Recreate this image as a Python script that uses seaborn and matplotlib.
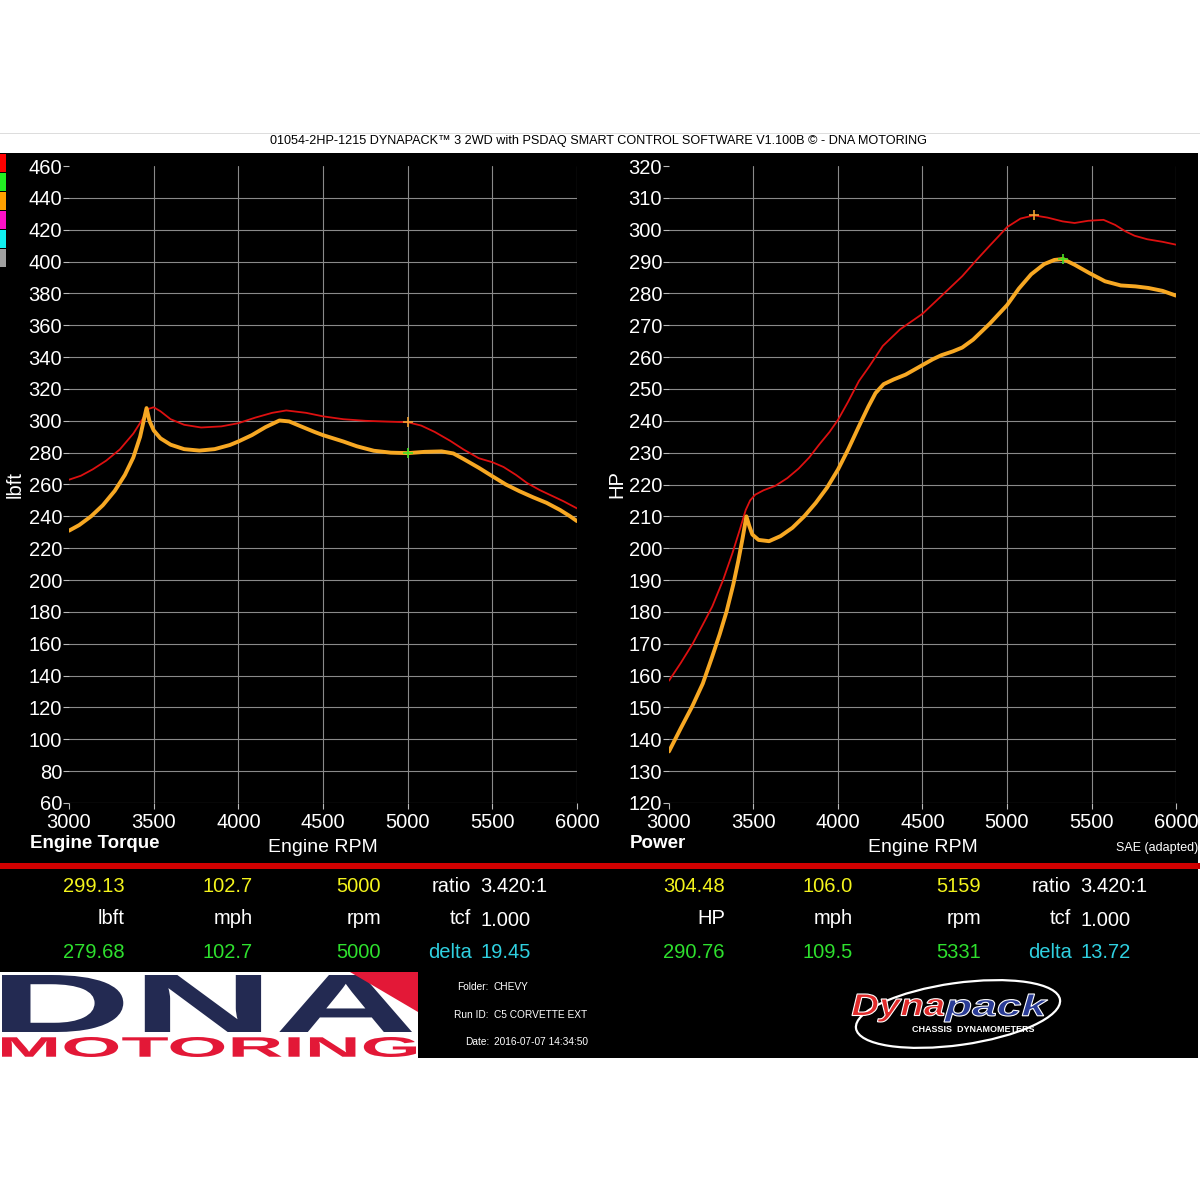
import matplotlib
matplotlib.use("Agg")
import matplotlib.pyplot as plt
import seaborn as sns
from matplotlib.patches import Rectangle, Polygon, PathPatch, Ellipse
from matplotlib.textpath import TextPath
from matplotlib.font_manager import FontProperties
from matplotlib.transforms import Affine2D

# ---- curves ----
torque_red_rpm = [3000, 3070, 3140, 3220, 3300, 3380, 3440, 3470, 3500, 3540, 3600, 3680,
                  3780, 3900, 4000, 4100, 4200, 4283, 4400, 4500, 4620, 4750, 4880, 5000,
                  5080, 5160, 5250, 5330, 5420, 5500, 5566, 5640, 5704, 5780, 5850, 5920, 6000]
torque_red = [263, 265.5, 269.5, 275, 282, 292, 302, 307.5, 308.5, 306, 301, 297.5,
              295.8, 296.5, 298.5, 302, 305, 306.5, 305, 302.8, 301, 300, 299.5, 299.1,
              297, 293, 287.5, 282, 276.5, 274, 271, 266, 261, 256.5, 253, 249.5, 245]

torque_orange_rpm = [3000, 3060, 3130, 3200, 3270, 3330, 3380, 3420, 3445, 3458, 3475, 3500,
                     3540, 3600, 3680, 3770, 3860, 3950, 4000, 4080, 4160, 4243, 4300, 4370,
                     4450, 4500, 4560, 4620, 4700, 4800, 4900, 5000, 5100, 5200, 5270, 5330,
                     5420, 5500, 5580, 5660, 5740, 5820, 5900, 5960, 6000]
torque_orange = [231, 234.5, 240, 247, 256, 266, 277, 290, 302, 308, 300, 294,
                 289, 285, 282.2, 281.3, 282.2, 284.8, 287, 291, 296, 300.2, 299.6, 296.5,
                 293, 291, 289, 287, 284, 281.2, 280, 279.7, 280.5, 280.8, 279.5, 276,
                 270.5, 265.2, 260, 255.8, 252, 248.5, 244, 240, 237]

power_red_rpm = [3000, 3070, 3140, 3200, 3256, 3320, 3375, 3420, 3454, 3480, 3510, 3560,
                 3630, 3700, 3767, 3830, 3888, 3950, 4000, 4060, 4124, 4184, 4265, 4367,
                 4500, 4612, 4735, 4820, 4898, 4960, 5000, 5080, 5159, 5240, 5330, 5400,
                 5480, 5571, 5640, 5700, 5755, 5830, 5920, 6000]
power_red = [158.4, 164, 170, 176, 181.7, 190, 198.4, 206, 212, 215, 216.8, 218.2,
             219.6, 222, 225, 228.5, 232.5, 236.5, 240.3, 246, 252.5, 257, 263.5, 268.7,
             273.6, 279.2, 285.4, 290.5, 295, 298.5, 300.8, 303.5, 304.5, 303.8, 302.6, 302.1,
             302.8, 303.1, 301.5, 299.5, 298.1, 297, 296.2, 295.3]

power_orange_rpm = [3000, 3070, 3138, 3200, 3256, 3300, 3340, 3380, 3410, 3435, 3458, 3475,
                    3493, 3530, 3592, 3660, 3730, 3800, 3868, 3935, 4000, 4060, 4124, 4180,
                    4222, 4270, 4330, 4400, 4500, 4560, 4612, 4680, 4735, 4800, 4898, 5000,
                    5070, 5143, 5220, 5280, 5331, 5400, 5490, 5580, 5673, 5760, 5837, 5920, 6000]
power_orange = [136.2, 143.5, 150.4, 157.5, 166, 173, 180, 188.5, 196, 203, 210, 207,
                204.3, 202.6, 202.2, 203.8, 206.4, 210, 214.2, 219, 224.7, 231, 238.3, 244.5,
                248.7, 251.5, 253, 254.5, 257.5, 259.3, 260.6, 261.8, 263, 265.5, 270.5, 276.3,
                281.5, 286, 289.2, 290.5, 290.8, 289, 286.3, 283.8, 282.5, 282.2, 281.7, 280.8, 279.3]

# cursor points shown on the curves
torque_marks = [(5000, 299.13), (5000, 279.68)]
power_marks = [(5159, 304.48), (5331, 290.76)]

# readout panel
torque_top = ["299.13", "102.7", "5000"]
torque_units = ["lbft", "mph", "rpm"]
torque_bottom = ["279.68", "102.7", "5000"]
power_top = ["304.48", "106.0", "5159"]
power_units = ["HP", "mph", "rpm"]
power_bottom = ["290.76", "109.5", "5331"]
ratio = "3.420:1"
tcf = "1.000"
torque_delta = "19.45"
power_delta = "13.72"

header = "01054-2HP-1215 DYNAPACK\u2122 3 2WD with PSDAQ SMART CONTROL SOFTWARE V1.100B \u00a9 - DNA MOTORING"
run_labels = ["Folder:", "Run ID:", "Date:"]
run_values = ["CHEVY", "C5 CORVETTE EXT", "2016-07-07 14:34:50"]
swatch_colors = ["#ff0000", "#22ee22", "#ffa000", "#ff10c8", "#10f0f0", "#a0a0a0"]

RED = "#dd1010"
ORANGE = "#f7a823"
YELLOW = "#f4f41c"
GREEN = "#2ee02e"
CYAN = "#2fd0e0"

sns.set_style("dark", rc={"axes.facecolor": "black", "grid.color": "#8a8a8a"})
plt.rcParams["font.family"] = ["Liberation Sans", "DejaVu Sans"]

W = 1200.0


def fx(x):
    return x / W


def fy(y):
    return 1 - y / W


def fit_text(fig, s, x0, y0, x1, y1, color, style="normal", edge=None, z=3):
    # squeeze a text outline into a pixel box (top-left origin)
    tp = TextPath((0, 0), s, size=100,
                  prop=FontProperties(family="Liberation Sans", weight="bold", style=style))
    bb = tp.get_extents()
    tr = (Affine2D().translate(-bb.x0, -bb.y0)
          .scale((x1 - x0) / W / bb.width, (y1 - y0) / W / bb.height)
          .translate(fx(x0), fy(y1)) + fig.transFigure)
    fig.add_artist(PathPatch(tp, transform=tr, facecolor=color,
                             edgecolor=edge if edge else "none", lw=0.8, zorder=z))


fig = plt.figure(figsize=(12, 12), dpi=100)
fig.patch.set_facecolor("white")

# black panel, header strip, swatches, divider
fig.add_artist(Rectangle((0, fy(1058)), 0.998, (1058 - 153) / W, transform=fig.transFigure,
                         facecolor="black", edgecolor="none", zorder=-5))
fig.add_artist(Rectangle((0, fy(134)), 1, 0.6 / W, transform=fig.transFigure,
                         facecolor="#dddddd", edgecolor="none", zorder=-4))
fig.text(fx(599), fy(141), header, ha="center", va="center", fontsize=9.1, color="black")
for i, c in enumerate(swatch_colors):
    fig.add_artist(Rectangle((0, fy(153 + 19 * (i + 1))), 6 / W, 18 / W,
                             transform=fig.transFigure, facecolor=c, edgecolor="none"))
fig.add_artist(Rectangle((0, fy(869)), 1, 6 / W, transform=fig.transFigure,
                         facecolor="#d00000", edgecolor="none", zorder=2))

ax1 = fig.add_axes([fx(69), fy(803), 508 / W, 637 / W])
ax2 = fig.add_axes([fx(669), fy(803), 507 / W, 637 / W])

panels = [
    (ax1, torque_red_rpm, torque_red, torque_orange_rpm, torque_orange, torque_marks,
     (60, 460), 20, "lbft", -0.088),
    (ax2, power_red_rpm, power_red, power_orange_rpm, power_orange, power_marks,
     (120, 320), 10, "HP", -0.085),
]

for ax, rx, ry, ox, oy, marks, ylim, ystep, ylab, ylab_x in panels:
    ax.set_facecolor("black")
    sns.lineplot(x=rx, y=ry, ax=ax, color=RED, linewidth=1.3, estimator=None, sort=False,
                 legend=False, zorder=3)
    sns.lineplot(x=ox, y=oy, ax=ax, color=ORANGE, linewidth=2.8, estimator=None, sort=False,
                 legend=False, zorder=4)
    ax.plot(*marks[0], marker="+", ms=7, mew=1.2, color="#f0a030", zorder=5)
    ax.plot(*marks[1], marker="+", ms=7, mew=1.2, color="#44e022", zorder=5)

    ax.set_xlim(3000, 6000)
    ax.set_ylim(*ylim)
    ax.set_xticks(range(3000, 6001, 500))
    ax.set_yticks(range(ylim[0], ylim[1] + 1, ystep))
    for sp in ax.spines.values():
        sp.set_visible(False)
    ax.grid(True, color="#8a8a8a", lw=0.8)
    ax.get_xgridlines()[0].set_visible(False)
    ax.get_ygridlines()[-1].set_visible(False)
    ax.tick_params(axis="y", colors="white", labelsize=14.5, length=4, width=0.8,
                   pad=1, direction="out", left=True)
    ax.tick_params(axis="x", colors="white", labelsize=14.5, length=4, width=0.8,
                   pad=3, direction="out", bottom=True)
    ax.tick_params(axis="both", color="#bbbbbb")
    ax.set_xlabel("Engine RPM", color="white", fontsize=14, labelpad=5)
    ax.set_ylabel(ylab, color="white", fontsize=14.5)
    ax.yaxis.set_label_coords(ylab_x, 0.5)

fig.text(fx(30), fy(843), "Engine Torque", fontsize=13.5, fontweight="bold", color="white",
         ha="left", va="center")
fig.text(fx(630), fy(843), "Power", fontsize=13.5, fontweight="bold", color="white",
         ha="left", va="center")
fig.text(fx(1198), fy(848), "SAE (adapted)", fontsize=9, color="white", ha="right", va="center")

# readout rows
col_right = [125, 253, 381]
for off, top, units, bottom, delta in [(0, torque_top, torque_units, torque_bottom, torque_delta),
                                       (600, power_top, power_units, power_bottom, power_delta)]:
    for cx, t, u, b in zip(col_right, top, units, bottom):
        fig.text(fx(cx + off), fy(886), t, color=YELLOW, fontsize=14.5, ha="right", va="center")
        fig.text(fx(cx + off), fy(918), u, color="white", fontsize=14.5, ha="right", va="center")
        fig.text(fx(cx + off), fy(952), b, color=GREEN, fontsize=14.5, ha="right", va="center")
    fig.text(fx(471 + off), fy(886), "ratio", color="white", fontsize=14.5, ha="right", va="center")
    fig.text(fx(480 + off), fy(886), ratio, color="white", fontsize=14.5, ha="left", va="center")
    fig.text(fx(471 + off), fy(918), "tcf", color="white", fontsize=14.5, ha="right", va="center")
    fig.text(fx(480 + off), fy(920), tcf, color="white", fontsize=14.5, ha="left", va="center")
    fig.text(fx(472 + off), fy(952), "delta", color=CYAN, fontsize=14.5, ha="right", va="center")
    fig.text(fx(480 + off), fy(952), delta, color=CYAN, fontsize=14.5, ha="left", va="center")

# DNA Motoring logo
fig.add_artist(Rectangle((0, fy(1058)), 418 / W, 86 / W, transform=fig.transFigure,
                         facecolor="white", edgecolor="none", zorder=2))
fit_text(fig, "DNA", 2, 975, 412, 1032, "#232a52")
fig.add_artist(Polygon([(fx(350), fy(972)), (fx(418), fy(972)), (fx(418), fy(1012))],
                       closed=True, transform=fig.transFigure, facecolor="#e31837",
                       edgecolor="none", zorder=4))
fit_text(fig, "MOTORING", 2, 1037, 416, 1057, "#e31837")

# run info
for i, (lab, val) in enumerate(zip(run_labels, run_values)):
    yy = fy(987 + 27.5 * i)
    fig.text(fx(489), yy, lab, color="white", fontsize=7.3,
             family=["Liberation Sans Narrow", "Liberation Sans"], ha="right", va="center")
    fig.text(fx(494), yy, val, color="white", fontsize=7.3,
             family=["Liberation Sans Narrow", "Liberation Sans"], ha="left", va="center")

# Dynapack logo
fig.add_artist(Ellipse((fx(958), fy(1014)), 206 / W, 62 / W, angle=8, transform=fig.transFigure,
                       facecolor="none", edgecolor="white", lw=1.6, zorder=2))
fit_text(fig, "Dyna", 852, 994, 944, 1022, "#e02a2a", style="italic", edge="white")
fit_text(fig, "pack", 944, 994, 1048, 1022, "#2a3c96", style="italic", edge="white")
fig.text(fx(973), fy(1029), "CHASSIS  DYNAMOMETERS", color="white", fontsize=6.5,
         fontweight="bold", ha="center", va="center", zorder=4)

fig.savefig("out.png", dpi=100, facecolor=fig.get_facecolor())
